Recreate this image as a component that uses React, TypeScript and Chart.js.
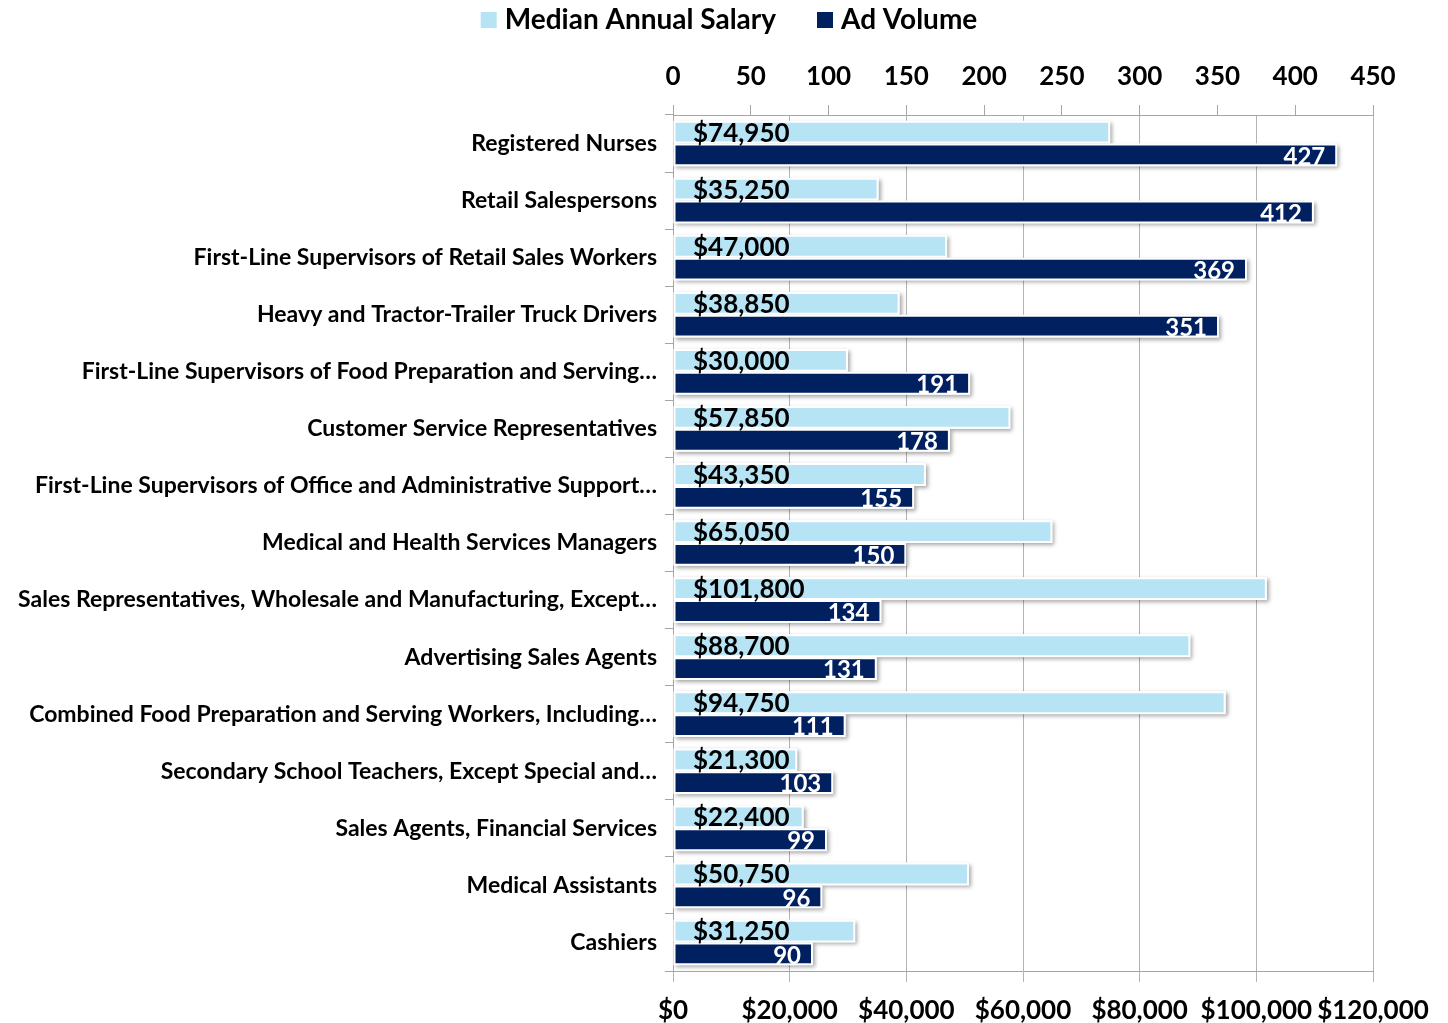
import React, { useEffect, useRef } from 'react';
import { Chart, registerables } from 'chart.js';

Chart.register(...registerables);

const categories = [
  'Registered Nurses',
  'Retail Salespersons',
  'First-Line Supervisors of Retail Sales Workers',
  'Heavy and Tractor-Trailer Truck Drivers',
  'First-Line Supervisors of Food Preparation and Serving…',
  'Customer Service Representatives',
  'First-Line Supervisors of Office and Administrative Support…',
  'Medical and Health Services Managers',
  'Sales Representatives, Wholesale and Manufacturing, Except…',
  'Advertising Sales Agents',
  'Combined Food Preparation and Serving Workers, Including…',
  'Secondary School Teachers, Except Special and…',
  'Sales Agents, Financial Services',
  'Medical Assistants',
  'Cashiers',
];

const salaryValues = [74950, 35250, 47000, 38850, 30000, 57850, 43350, 65050, 101800, 88700, 94750, 21300, 22400, 50750, 31250];
const adVolumeValues = [427, 412, 369, 351, 191, 178, 155, 150, 134, 131, 111, 103, 99, 96, 90];

const seriesNames = ['Median Annual Salary', 'Ad Volume'];
const seriesColors = ['#b7e4f5', '#002060'];

const salaryAxis = { min: 0, max: 120000, step: 20000 };
const adAxis = { min: 0, max: 450, step: 50 };

const FONT = 'Lato, "Noto Sans", sans-serif';
const W = 1448;
const H = 1023;

export default function App() {
  const ref = useRef<HTMLCanvasElement>(null);

  useEffect(() => {
    if (!ref.current) return;

    const shadowPlugin = {
      id: 'barShadow',
      beforeDatasetsDraw(chart: any) {
        const ctx = chart.ctx;
        ctx.save();
        chart.data.datasets.forEach((_ds: any, i: number) => {
          const meta = chart.getDatasetMeta(i);
          meta.data.forEach((bar: any) => {
            const { x, y, base, height } = bar.getProps(['x', 'y', 'base', 'height'], true);
            const left = Math.min(x, base);
            const w = Math.abs(x - base);
            ctx.shadowColor = 'rgba(0,0,0,0.35)';
            ctx.shadowBlur = 4;
            ctx.shadowOffsetX = 2;
            ctx.shadowOffsetY = 2;
            ctx.fillStyle = '#ffffff';
            ctx.fillRect(left, y - height / 2, w, height);
          });
        });
        ctx.restore();
      },
    };

    const labelPlugin = {
      id: 'valueLabels',
      afterDatasetsDraw(chart: any) {
        const ctx = chart.ctx;
        ctx.save();
        const salMeta = chart.getDatasetMeta(0);
        const adMeta = chart.getDatasetMeta(1);
        const x0 = chart.scales.xSal.getPixelForValue(0);
        ctx.textBaseline = 'middle';
        salMeta.data.forEach((bar: any, i: number) => {
          const { y } = bar.getProps(['y'], true);
          ctx.font = `bold 26px ${FONT}`;
          ctx.fillStyle = '#000000';
          ctx.textAlign = 'left';
          ctx.fillText('$' + salaryValues[i].toLocaleString('en-US'), x0 + 20, y + 1);
        });
        adMeta.data.forEach((bar: any, i: number) => {
          const { x, y } = bar.getProps(['x', 'y'], true);
          ctx.font = `bold 24px ${FONT}`;
          ctx.fillStyle = '#ffffff';
          ctx.textAlign = 'right';
          ctx.fillText(String(adVolumeValues[i]), x - 12, y + 2);
        });
        ctx.restore();
      },
    };

    const legendPlugin = {
      id: 'customLegend',
      afterDraw(chart: any) {
        const ctx = chart.ctx;
        ctx.save();
        ctx.font = `bold 28px ${FONT}`;
        ctx.textBaseline = 'middle';
        ctx.textAlign = 'left';
        const box = 16;
        const gapBT = 8;
        const gapItems = 41;
        const widths = seriesNames.map((n) => ctx.measureText(n).width);
        const total = widths.reduce((a, b) => a + b + box + gapBT, 0) + gapItems;
        let x = 729 - total / 2;
        const cy = 20;
        seriesNames.forEach((n, i) => {
          ctx.fillStyle = seriesColors[i];
          ctx.fillRect(x, cy - box / 2, box, box);
          x += box + gapBT;
          ctx.fillStyle = '#000000';
          ctx.fillText(n, x, cy);
          x += widths[i] + gapItems;
        });
        ctx.restore();
      },
    };

    const tickFont = { family: FONT, size: 26, weight: 'bold' as const };

    const chart = new Chart(ref.current, {
      type: 'bar',
      data: {
        labels: categories,
        datasets: [
          {
            label: seriesNames[0],
            data: salaryValues,
            xAxisID: 'xSal',
            backgroundColor: seriesColors[0],
            borderColor: '#ffffff',
            borderWidth: 2,
            borderSkipped: false,
            categoryPercentage: 0.8,
            barPercentage: 1,
          },
          {
            label: seriesNames[1],
            data: adVolumeValues,
            xAxisID: 'xAds',
            backgroundColor: seriesColors[1],
            borderColor: '#ffffff',
            borderWidth: 2,
            borderSkipped: false,
            categoryPercentage: 0.8,
            barPercentage: 1,
          },
        ],
      },
      options: {
        indexAxis: 'y',
        responsive: false,
        animation: false,
        layout: { padding: { top: 48, right: 75, left: 0, bottom: 0 } },
        plugins: {
          legend: { display: false },
          tooltip: { enabled: false },
        },
        scales: {
          y: {
            type: 'category',
            position: 'left',
            offset: true,
            grid: { display: true, drawOnChartArea: false, offset: true, tickLength: 8, color: '#a6a6a6' },
            border: { display: true, color: '#a6a6a6' },
            ticks: { font: { family: FONT, size: 23, weight: 'bold' }, color: '#000000', padding: 8, autoSkip: false },
            afterFit(scale: any) {
              scale.width = 673;
            },
          },
          xSal: {
            type: 'linear',
            position: 'bottom',
            min: salaryAxis.min,
            max: salaryAxis.max,
            grid: { color: '#b3b3b3', tickLength: 11 },
            border: { display: true, color: '#a6a6a6' },
            ticks: {
              stepSize: salaryAxis.step,
              autoSkip: false,
              maxRotation: 0,
              padding: 13,
              font: tickFont,
              color: '#000000',
              callback: (v: any) => '$' + Number(v).toLocaleString('en-US'),
            },
            afterFit(scale: any) {
              scale.height = 52;
            },
          },
          xAds: {
            type: 'linear',
            position: 'top',
            min: adAxis.min,
            max: adAxis.max,
            grid: { drawOnChartArea: false, color: '#a6a6a6', tickLength: 10 },
            border: { display: true, color: '#a6a6a6' },
            ticks: {
              stepSize: adAxis.step,
              autoSkip: false,
              maxRotation: 0,
              padding: 13,
              font: tickFont,
              color: '#000000',
            },
            afterFit(scale: any) {
              scale.height = 67;
            },
          },
        },
      },
      plugins: [shadowPlugin, labelPlugin, legendPlugin],
    });

    return () => chart.destroy();
  }, []);

  return (
    <div style={{ position: 'fixed', left: 0, top: 0, width: W, height: H }}>
      <canvas ref={ref} width={W} height={H} style={{ display: 'block' }} />
    </div>
  );
}
